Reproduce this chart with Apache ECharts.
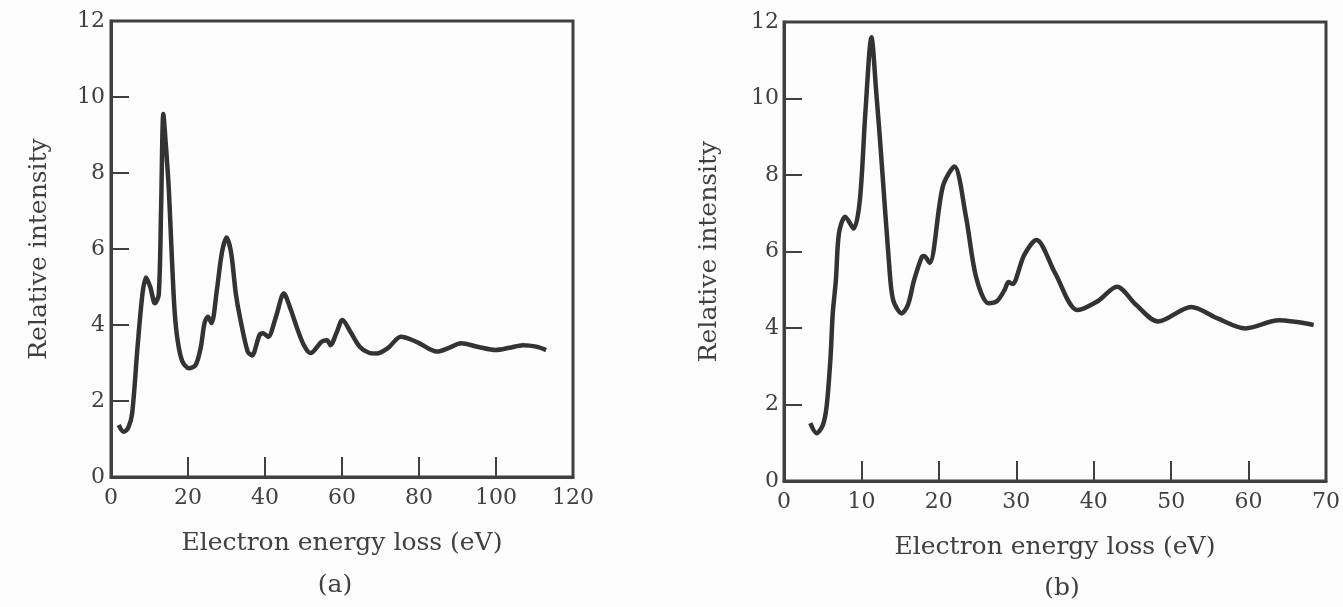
<!DOCTYPE html>
<html>
<head>
<meta charset="utf-8">
<script src="https://cdn.jsdelivr.net/npm/echarts@6/dist/echarts.min.js"></script>
<style>
html,body{margin:0;padding:0;background:#fdfdfd;}
#chart{width:1343px;height:607px;}
</style>
</head>
<body>
<div id="chart"></div>
<script>
// Panel (a)
const xA = [2, 3.3, 4.5, 5.5, 6.9, 8.2, 9.1, 10.2, 11.4, 12.4, 13.0, 13.6, 14.2, 15.0, 15.8, 16.5, 17.3, 18.5, 20.3, 22.0, 23.3, 24.3, 25.2, 26.1, 27.5, 28.8, 30.0, 31.2, 32.4, 33.5, 35.5, 36.6, 38.6, 39.5, 40.8, 42.8, 44.9, 46.7, 48.5, 50.2, 51.8, 54.7, 56.1, 57.0, 58.6, 60.1, 62.3, 64.6, 67.0, 69.0, 72.0, 75.3, 79.5, 84.7, 87.8, 90.9, 95.5, 99.9, 103.5, 107.0, 110.5, 113.0];
const yA = [1.37, 1.19, 1.3, 1.68, 3.43, 4.84, 5.25, 5.0, 4.57, 4.8, 7.0, 9.55, 8.8, 7.6, 5.8, 4.4, 3.6, 3.05, 2.86, 2.95, 3.4, 4.05, 4.22, 4.05, 4.92, 5.9, 6.3, 5.9, 4.84, 4.2, 3.3, 3.2, 3.74, 3.78, 3.69, 4.2, 4.83, 4.4, 3.87, 3.45, 3.26, 3.56, 3.6, 3.47, 3.8, 4.13, 3.8, 3.43, 3.27, 3.25, 3.4, 3.69, 3.55, 3.3, 3.4, 3.52, 3.42, 3.34, 3.4, 3.47, 3.43, 3.34];
// Panel (b)
const xB = [3.4, 4.2, 5.0, 5.5, 6.0, 6.3, 6.7, 7.1, 7.9, 9.0, 9.8, 10.5, 11.3, 11.9, 12.5, 13.6, 14.1, 15.2, 16.0, 16.8, 17.8, 18.1, 18.8, 20.5, 22.0, 23.5, 24.8, 26.4, 27.5, 28.5, 29.0, 29.5, 31.0, 32.6, 35.0, 37.9, 40.5, 43.0, 45.5, 48.3, 52.6, 56.0, 59.6, 63.9, 68.4];
const yB = [1.51, 1.25, 1.45, 1.94, 3.2, 4.39, 5.25, 6.48, 6.91, 6.6, 7.35, 9.6, 11.6, 10.2, 8.65, 5.6, 4.73, 4.38, 4.6, 5.25, 5.86, 5.88, 5.7, 7.69, 8.22, 6.91, 5.34, 4.65, 4.7, 5.0, 5.2, 5.15, 5.9, 6.3, 5.44, 4.47, 4.7, 5.08, 4.6, 4.17, 4.55, 4.25, 3.99, 4.2, 4.08];

const xMaxA = 120, xStepA = 20;
const xMaxB = 70, xStepB = 10;
const yMax = 12, yStep = 2;
const xTitle = 'Electron energy loss (eV)';
const yTitle = 'Relative intensity';
const panelLabels = ['(a)', '(b)'];

const FONT = 'DejaVu Serif';
const INK = '#404040';

function xAxisCfg(idx, max, step) {
  return {
    type: 'value', gridIndex: idx, min: 0, max: max, interval: step,
    axisLine: {show: true, lineStyle: {color: INK, width: 3}},
    axisTick: {show: true, inside: true, length: 20, lineStyle: {color: INK, width: 2}},
    splitLine: {show: false},
    axisLabel: {fontFamily: FONT, fontSize: 22, color: INK, margin: 10},
    name: xTitle, nameLocation: 'middle', nameGap: 54,
    nameTextStyle: {fontFamily: FONT, fontSize: 25, color: INK}
  };
}
function yAxisCfg(idx, gap, margin) {
  return {
    type: 'value', gridIndex: idx, min: 0, max: yMax, interval: yStep,
    axisLine: {show: true, lineStyle: {color: INK, width: 3}},
    axisTick: {show: true, inside: true, length: 18, lineStyle: {color: INK, width: 2}},
    splitLine: {show: false},
    axisLabel: {fontFamily: FONT, fontSize: 22, color: INK, margin: margin},
    name: yTitle, nameLocation: 'middle', nameGap: gap, nameRotate: 90,
    nameTextStyle: {fontFamily: FONT, fontSize: 25, color: INK}
  };
}

const chart = echarts.init(document.getElementById('chart'), null, {renderer: 'canvas'});
chart.setOption({
  backgroundColor: '#fdfdfd',
  animation: false,
  grid: [
    {left: 111, top: 21, width: 462, height: 456, show: true, borderColor: INK, borderWidth: 3, backgroundColor: 'transparent'},
    {left: 784, top: 22, width: 542, height: 459, show: true, borderColor: INK, borderWidth: 3, backgroundColor: 'transparent'}
  ],
  xAxis: [xAxisCfg(0, xMaxA, xStepA), xAxisCfg(1, xMaxB, xStepB)],
  yAxis: [yAxisCfg(0, 59, 6), yAxisCfg(1, 62, 5)],
  series: [
    {type: 'line', xAxisIndex: 0, yAxisIndex: 0, smooth: 0.3, showSymbol: false,
     lineStyle: {color: '#333', width: 4.5}, data: xA.map((x, i) => [x, yA[i]])},
    {type: 'line', xAxisIndex: 1, yAxisIndex: 1, smooth: 0.3, showSymbol: false,
     lineStyle: {color: '#333', width: 4.5}, data: xB.map((x, i) => [x, yB[i]])}
  ],
  graphic: [
    {type: 'text', x: 335, y: 585, style: {text: panelLabels[0], font: '25px "DejaVu Serif"', fill: INK, textAlign: 'center', textVerticalAlign: 'middle'}},
    {type: 'text', x: 1062, y: 588, style: {text: panelLabels[1], font: '25px "DejaVu Serif"', fill: INK, textAlign: 'center', textVerticalAlign: 'middle'}}
  ]
});
</script>
</body>
</html>
